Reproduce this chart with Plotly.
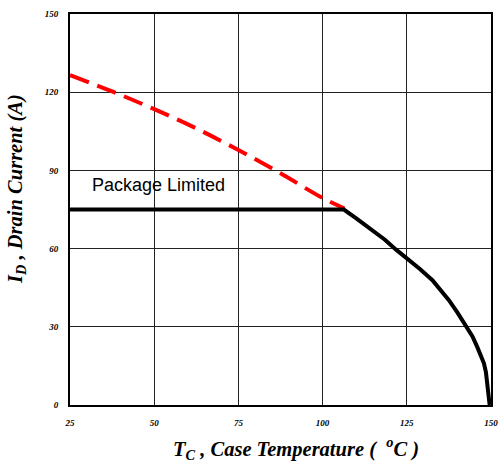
import plotly.graph_objects as go

# Data
red_t = [25, 37.5, 50, 62.5, 75, 87.5, 100, 106.5]
red_i = [126.6, 120.3, 113.5, 106.1, 97.8, 88.9, 79.4, 75.4]

black_t = [25, 106.3, 110, 115, 118.5, 121.9, 125, 128.8, 132.6, 135, 137.5, 140, 142.8,
           144.5, 146, 147.2, 147.9, 148.5, 149.0, 149.4, 149.6]
black_i = [75, 75, 71.6, 67, 63.4, 59.5, 56.3, 52.3, 47.9, 44.3, 40.2, 35.5, 30,
           26.3, 22, 18.5, 16, 12.5, 8, 3.5, 0]

x_ticks = [25, 50, 75, 100, 125, 150]
y_ticks = [0, 30, 60, 90, 120, 150]

fig = go.Figure()
fig.add_trace(go.Scatter(x=red_t, y=red_i, mode="lines",
                         line=dict(color="#ff0000", width=4, dash="20px,9px"),
                         line_shape="spline", showlegend=False))
fig.add_trace(go.Scatter(x=black_t, y=black_i, mode="lines",
                         line=dict(color="#000000", width=4),
                         line_shape="linear", showlegend=False))

fig.add_annotation(x=30.8, y=84.4, text="Package Limited", showarrow=False,
                   xanchor="left", yanchor="middle",
                   font=dict(family="Liberation Sans, Arial", size=18, color="#000"))

tickfont = dict(family="Liberation Serif, Times New Roman", size=9, color="#000",
                weight="bold", style="italic")
titlefont = dict(family="Liberation Serif, Times New Roman", size=20.5, color="#000",
                 weight="bold", style="italic")

fig.add_annotation(xref="paper", yref="paper", x=(300 - 70) / 428, y=(405 - 448) / 391,
                   text="T<sub>C</sub> , Case Temperature (&nbsp;&nbsp;<sup>o</sup>C )",
                   showarrow=False, xanchor="center", yanchor="middle", font=titlefont)
fig.add_annotation(xref="paper", yref="paper", x=(15 - 70) / 428, y=(405 - 189) / 391,
                   text="I<sub>D</sub> , Drain Current (A)", textangle=-90,
                   showarrow=False, xanchor="center", yanchor="middle", font=titlefont)

fig.update_xaxes(range=[25, 150], tickvals=x_ticks, ticktext=[str(v) for v in x_ticks],
                 showgrid=True, gridcolor="#222", gridwidth=1,
                 showline=True, linecolor="#000", linewidth=2, mirror=True,
                 zeroline=False, ticks="", tickfont=tickfont, ticklabelstandoff=8)
fig.update_yaxes(range=[0, 150], tickvals=y_ticks, ticktext=[str(v) for v in y_ticks],
                 showgrid=True, gridcolor="#222", gridwidth=1,
                 showline=True, linecolor="#000", linewidth=2, mirror=True,
                 zeroline=False, ticks="", tickfont=tickfont, ticklabelstandoff=8)

fig.update_layout(width=504, height=462, margin=dict(l=70, r=6, t=14, b=57),
                  plot_bgcolor="white", paper_bgcolor="white")

fig.write_html("out.html")
